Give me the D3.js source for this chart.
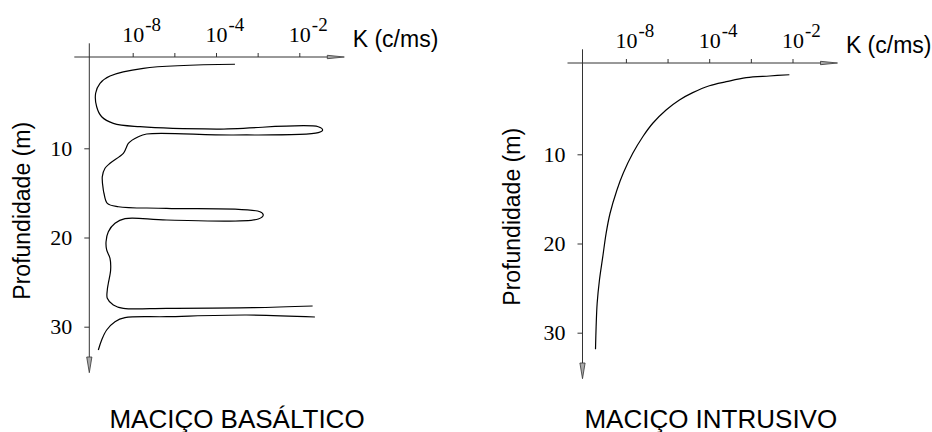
<!DOCTYPE html>
<html>
<head>
<meta charset="utf-8">
<script src="https://cdn.jsdelivr.net/npm/d3@7"></script>
<style>
  body { margin: 0; background: #fff; }
  svg { display: block; }
</style>
</head>
<body>
<svg width="932" height="432"></svg>
<script>
// x axis: log10 of K, ticks every 2 decades (labels copied as printed)
var kTicks = [-8, -6, -4, -2, 0];
var kTickLabels = ["-8", "", "-4", "", "-2"];
var depthTicks = [10, 20, 30];

// Maciço basáltico - curve is drawn in two pieces (gap between 27.7 and 28.9 m)
var basaltUpperLogK = [-3.09, -7.49, -9.09, -9.57, -9.78, -9.73, -9.49, -8.93, -7.65, -3.97, 0.91, 1.12, 0.91, -3.17, -7.33, -7.73, -8.21, -8.32, -8.45, -9.09, -9.33, -9.46, -9.41, -9.38, -9.22, -8.69, -6.37, -1.89, -1.73, -1.97, -6.37, -8.37, -8.85, -9.17, -9.28, -9.25, -9.09, -9.06, -9.17, -9.22, -9.22, -8.93, -8.45, -6.37, -2.21, 0.64];
var basaltUpperDepth = [0.58, 1.03, 1.89, 2.71, 3.83, 5.34, 6.46, 7.20, 7.58, 7.84, 7.58, 7.95, 8.25, 8.51, 8.40, 8.70, 9.44, 10.0, 10.56, 11.68, 12.24, 13.18, 14.67, 15.04, 16.17, 16.55, 16.73, 17.11, 17.48, 17.93, 18.04, 17.89, 18.41, 19.35, 20.47, 21.40, 22.33, 23.64, 25.13, 25.89, 26.82, 27.57, 27.94, 27.94, 27.87, 27.68];
var basaltLowerLogK = [0.75, -2.53, -6.37, -8.37, -8.85, -9.25, -9.49, -9.65];
var basaltLowerDepth = [28.91, 28.69, 28.88, 28.99, 29.44, 30.37, 31.49, 32.61];

// Maciço intrusivo
var intrusiveLogK = [-0.15, -1.11, -2.22, -3.18, -3.99, -4.79, -5.43, -6.07, -6.71, -7.19, -7.67, -8.13, -8.43, -8.76, -8.95, -9.11, -9.27, -9.38, -9.43, -9.46];
var intrusiveDepth = [1.08, 1.22, 1.41, 1.86, 2.31, 3.09, 3.91, 5.03, 6.52, 8.03, 9.89, 12.13, 14.0, 16.61, 18.86, 21.48, 24.09, 26.70, 29.33, 31.86];

var svg = d3.select('svg');
var serif = '"Liberation Serif", "Times New Roman", Times, serif';
var sans = '"Liberation Sans", Arial, sans-serif';

// shared scales (panel-local coordinates, origin = axes crossing)
var xScale = d3.scaleLinear().domain([-8, 0]).range([43.4, 210.0]);
var yScale = d3.scaleLinear().domain([0, 30]).range([2.1, 269.7]);

function zip(xs, ys) {
  return xs.map(function(v, i) { return [v, ys[i]]; });
}

var line = d3.line()
  .x(function(d) { return xScale(d[0]); })
  .y(function(d) { return yScale(d[1]); })
  .curve(d3.curveCatmullRom.alpha(0.5));

function drawPanel(ox, oy, curves, ylabelX) {
  var g = svg.append('g').attr('transform', 'translate(' + ox + ',' + oy + ')');

  // top axis (K)
  var xAxis = g.append('g')
    .call(d3.axisTop(xScale).tickValues(kTicks).tickSize(4).tickSizeOuter(0).tickFormat(''));
  xAxis.select('.domain').remove();
  xAxis.selectAll('.tick line').attr('stroke', '#333');
  xAxis.selectAll('.tick text').remove();
  xAxis.selectAll('.tick').each(function(d, i) {
    if (!kTickLabels[i]) return;
    var t = d3.select(this).append('text')
      .attr('x', -11).attr('y', -14.7)
      .attr('text-anchor', 'start')
      .attr('fill', '#000')
      .style('font-family', serif).style('font-size', '22px');
    t.append('tspan').text('10');
    t.append('tspan').attr('dx', 1).attr('dy', -11.6).style('font-size', '19px').text(kTickLabels[i]);
  });

  g.append('line')
    .attr('x1', -15).attr('x2', 240).attr('y1', 0).attr('y2', 0)
    .attr('stroke', '#333').attr('stroke-width', 1);
  g.append('path')
    .attr('d', 'M238,-1.7L255,0L238,1.7Z')
    .attr('fill', '#aaa').attr('stroke', '#333').attr('stroke-width', 0.8);

  g.append('text')
    .attr('x', 263.4).attr('y', -10.3)
    .style('font-family', sans).style('font-size', '23px')
    .text('K (c/ms)');

  // left axis (depth)
  var yAxis = g.append('g')
    .call(d3.axisLeft(yScale).tickValues(depthTicks).tickSize(5).tickSizeOuter(0).tickPadding(12));
  yAxis.select('.domain').remove();
  yAxis.selectAll('.tick line').attr('stroke', '#333');
  yAxis.selectAll('.tick text')
    .attr('fill', '#000')
    .style('font-family', serif).style('font-size', '22px');

  g.append('line')
    .attr('x1', 0).attr('x2', 0).attr('y1', -13.7).attr('y2', 302)
    .attr('stroke', '#333').attr('stroke-width', 1);
  g.append('path')
    .attr('d', 'M-2.6,300L0,315.7L2.6,300Z')
    .attr('fill', '#aaa').attr('stroke', '#333').attr('stroke-width', 0.8);

  g.append('text')
    .attr('transform', 'translate(' + ylabelX + ',153.8) rotate(-90)')
    .attr('text-anchor', 'middle')
    .style('font-family', sans).style('font-size', '23px')
    .text('Profundidade (m)');

  curves.forEach(function(c) {
    g.append('path')
      .datum(c)
      .attr('d', line)
      .attr('fill', 'none')
      .attr('stroke', '#000')
      .attr('stroke-width', 1.2);
  });
}

drawPanel(89.3, 57, [zip(basaltUpperLogK, basaltUpperDepth), zip(basaltLowerLogK, basaltLowerDepth)], -59.3);
drawPanel(582.5, 63, [zip(intrusiveLogK, intrusiveDepth)], -62.7);

svg.append('text')
  .attr('x', 237).attr('y', 428)
  .attr('text-anchor', 'middle')
  .style('font-family', sans).style('font-size', '26px')
  .text('MACIÇO BASÁLTICO');
svg.append('text')
  .attr('x', 710.8).attr('y', 428)
  .attr('text-anchor', 'middle')
  .style('font-family', sans).style('font-size', '26px')
  .text('MACIÇO INTRUSIVO');
</script>
</body>
</html>
